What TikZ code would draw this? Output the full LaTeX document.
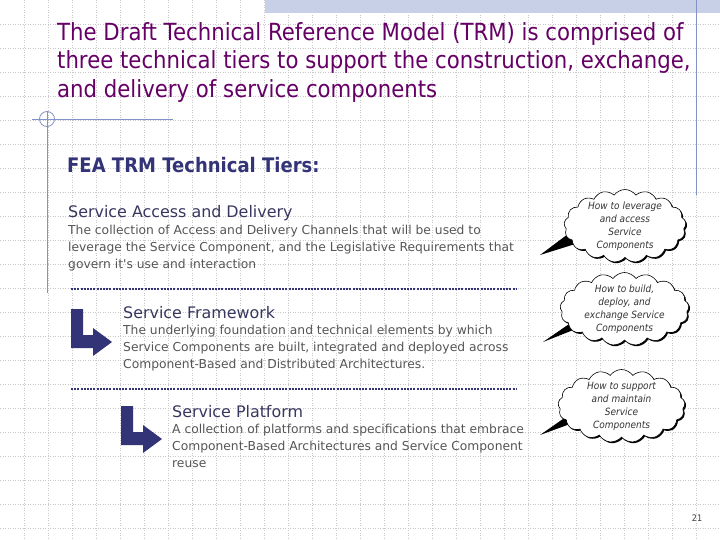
\documentclass[tikz,border=0pt]{standalone}
\usepackage{fontspec}
\setmainfont{DejaVu Sans}[FakeStretch=0.9]
\newfontfamily\widefont{DejaVu Sans}
\usetikzlibrary{shapes.symbols,shadows,positioning,calc}

\definecolor{titlepurple}{RGB}{102,0,102}
\definecolor{tiernavy}{RGB}{51,51,119}
\definecolor{headnavy}{RGB}{55,55,95}
\definecolor{bodygray}{RGB}{85,85,85}
\definecolor{rulelilac}{RGB}{130,145,200}
\definecolor{bandblue}{RGB}{200,208,232}
\definecolor{gridgray}{RGB}{200,200,200}

\begin{document}
\begin{tikzpicture}[x=1pt,y=-1pt,
        gridline/.style={gridgray, dotted, line width=0.5pt},
        rule/.style={rulelilac, line width=0.8pt},
        sep/.style={tiernavy, line width=2.4pt, dash pattern=on 2pt off 1.2pt},
        tierhead/.style={anchor=base west, inner sep=0, text=headnavy, font=\widefont\fontsize{15.9}{18}\selectfont},
        tierbody/.style={anchor=north west, inner sep=0, align=left, text=bodygray, font=\widefont\fontsize{12.3}{17}\selectfont},
        bubble/.style={cloud, cloud puffs=17, cloud puff arc=110, cloud ignores aspect, draw=black, fill=white, line width=0.6pt,
                drop shadow={shadow xshift=1.3pt, shadow yshift=-1.3pt, opacity=1, fill=black}},
        bubbletext/.style={align=center, inner sep=0, text=black!80, font=\fontsize{10}{13}\selectfont\itshape},
        tierarrow/.pic={\fill[tiernavy] (0,0) -- (12,0) -- (12,26) -- (22,26) -- (22,19) -- (41,33) -- (22,47) -- (22,39) -- (0,39) -- cycle;}]
        \useasboundingbox (0,0) rectangle (720,540);
        \fill[white] (0,0) rectangle (720,540);
        % background grid
        \foreach \gx in {24,48,...,696}
                \draw[gridline] (\gx,0) -- (\gx,540);
        \foreach \gy in {24,48,...,528}
                \draw[gridline] (0,\gy) -- (720,\gy);
        \fill[bandblue] (265,0) rectangle (720,13);
        \draw[rule] (696,0) -- (696,195);
        \draw[rule] (32,119) -- (173,119);
        \draw[rule] (47,112) -- (47,293);
        \draw[rule] (47,119) circle [radius=7.5];

        % title
        \node [anchor=north west, inner sep=0, align=left, text=titlepurple, font=\fontsize{23.6}{28.7}\selectfont] (title) at (57,22)
                {The Draft Technical Reference Model (TRM) is comprised of\\
                three technical tiers to support the construction, exchange,\\
                and delivery of service components};
        \node [anchor=base west, inner sep=0, text=tiernavy, font=\fontsize{20}{24}\selectfont\bfseries] (tiers) at (67,173) {FEA TRM Technical Tiers:};

        % tier 1
        \node [tierhead] (access) at (68,218) {Service Access and Delivery};
        \node [tierbody] (accesstext) at (68,225)
                {The collection of Access and Delivery Channels that will be used to\\
                leverage the Service Component, and the Legislative Requirements that\\
                govern it's use and interaction};
        \draw[sep] (71,289) -- (517,289);

        % tier 2
        \pic at (71,309) {tierarrow};
        \node [tierhead] (framework) at (123,318) {Service Framework};
        \node [tierbody] (frameworktext) at (123,325)
                {The underlying foundation and technical elements by which\\
                Service Components are built, integrated and deployed across\\
                Component-Based and Distributed Architectures.};
        \draw[sep] (71,389) -- (517,389);

        % tier 3
        \pic at (121,406) {tierarrow};
        \node [tierhead] (platform) at (172,417) {Service Platform};
        \node [tierbody] (platformtext) at (172,424)
                {A collection of platforms and specifications that embrace\\
                Component-Based Architectures and Service Component\\
                reuse};

        % call-outs
        \coordinate (c1pos) at (625,226);
        \coordinate (c2pos) at (624.5,309);
        \coordinate (c3pos) at (621.5,406);
        \coordinate (tip1) at (540,255);
        \coordinate (tip2) at (543,342);
        \coordinate (tip3) at (540,435);
        \fill ($(c1pos)+(-45,-1)$) -- (tip1) -- ($(c1pos)+(-37,14)$) -- cycle;
        \fill ($(c2pos)+(-38,3)$) -- (tip2) -- ($(c2pos)+(-36,15)$) -- cycle;
        \fill ($(c3pos)+(-37,-2)$) -- (tip3) -- ($(c3pos)+(-35,12)$) -- cycle;
        \node [bubble, minimum width=122pt, minimum height=73pt] (c1) at (c1pos) {};
        \node [bubble, minimum width=129pt, minimum height=73pt] (c2) at (c2pos) {};
        \node [bubble, minimum width=127pt, minimum height=73pt] (c3) at (c3pos) {};
        \node [bubbletext] (c1text) at (c1) {How to leverage\\and access\\Service\\Components};
        \node [bubbletext] (c2text) at (c2) {How to build,\\deploy, and\\exchange Service\\Components};
        \node [bubbletext] (c3text) at (c3) {How to support\\and maintain\\Service\\Components};

        \node [text=black!75, font=\fontsize{9}{10}\selectfont] (page) at (697,518) {21};
\end{tikzpicture}
\end{document}
